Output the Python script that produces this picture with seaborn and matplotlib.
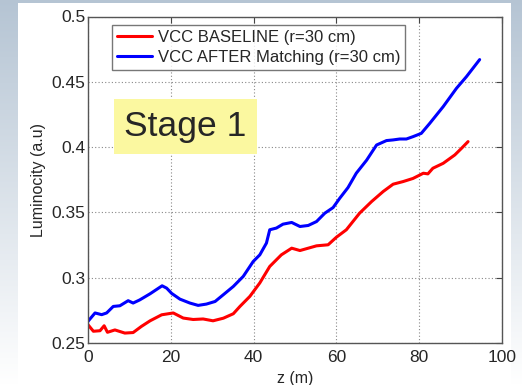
import numpy as np
import pandas as pd
import matplotlib
matplotlib.use("Agg")
import matplotlib.pyplot as plt
import seaborn as sns
from matplotlib.patches import Rectangle

# ---- data ----
z_after = [0, 1.7, 3.3, 4.5, 6.1, 7.7, 9.7, 10.9, 12.5, 15, 17.9, 19, 20.2, 22.2, 24.6, 26.6,
           28.6, 30.7, 32.7, 35.1, 37.5, 39.9, 41.5, 43.1, 43.9, 45.5, 47.1, 49.2, 51.2, 53.2,
           55.2, 57.2, 59.2, 60.8, 62.8, 64.8, 67.3, 69.7, 72.1, 73.7, 75.3, 76.9, 78.5, 80.5,
           82.5, 85.8, 89, 91.4, 94.6]
lum_after = [0.2666, 0.273, 0.2717, 0.273, 0.278, 0.2785, 0.2824, 0.2806, 0.283, 0.2877, 0.2938,
             0.292, 0.288, 0.2836, 0.2806, 0.2788, 0.2798, 0.2818, 0.287, 0.2933, 0.301, 0.3124,
             0.3175, 0.3265, 0.3367, 0.338, 0.341, 0.3423, 0.3392, 0.340, 0.343, 0.3494, 0.3537,
             0.3608, 0.369, 0.380, 0.390, 0.4016, 0.405, 0.4055, 0.4062, 0.4062, 0.408, 0.4105,
             0.418, 0.431, 0.445, 0.4539, 0.467]
z_base = [0, 1.3, 2.9, 3.9, 4.7, 6.5, 8.9, 10.9, 12.9, 15, 17.8, 20.6, 23, 25.4, 27.8, 30.2,
          32.7, 35.1, 36.7, 39.1, 41.5, 43.9, 46.7, 49.2, 51.2, 53.2, 55.2, 58, 60, 62.4, 65.6,
          68.5, 71.3, 73.7, 76.1, 78.5, 81, 82.1, 83.3, 85.8, 88.6, 90.2, 91.8]
lum_base = [0.264, 0.259, 0.2594, 0.2632, 0.2582, 0.260, 0.2576, 0.258, 0.2627, 0.267, 0.2716,
            0.273, 0.2691, 0.268, 0.2684, 0.267, 0.269, 0.2724, 0.278, 0.2857, 0.296, 0.3086,
            0.3175, 0.3226, 0.3208, 0.3226, 0.3244, 0.3252, 0.331, 0.3367, 0.3494, 0.3583,
            0.366, 0.3716, 0.3736, 0.376, 0.380, 0.3795, 0.3838, 0.3876, 0.394, 0.399, 0.4042]
series_names = ["VCC BASELINE (r=30 cm)", "VCC AFTER Matching (r=30 cm)"]
x_ticks = [0, 20, 40, 60, 80, 100]
y_ticks = [0.25, 0.3, 0.35, 0.4, 0.45, 0.5]
y_tick_labels = ["0.25", "0.3", "0.35", "0.4", "0.45", "0.5"]

df = pd.concat([
    pd.DataFrame({"z": z_base, "lum": lum_base, "series": series_names[0]}),
    pd.DataFrame({"z": z_after, "lum": lum_after, "series": series_names[1]}),
], ignore_index=True)

sns.set_style("white")
plt.rcParams["font.family"] = ["Liberation Sans", "DejaVu Sans"]

fig = plt.figure(figsize=(5.22, 3.85), dpi=100)

# background gradient + white panel
bg = fig.add_axes([0, 0, 1, 1], zorder=-10)
grad = np.linspace(0, 1, 256).reshape(-1, 1)
top = np.array([0.71, 0.77, 0.83])
bot = np.array([1.0, 1.0, 1.0])
img = top[None, None, :] * (1 - grad[:, :, None]) + bot[None, None, :] * grad[:, :, None]
bg.imshow(img, aspect="auto", extent=[0, 1, 0, 1], origin="upper")
bg.add_patch(Rectangle((18 / 522, 0), (511 - 18) / 522, 1 - 3 / 385, color="white", lw=0))
bg.set_xlim(0, 1); bg.set_ylim(0, 1)
bg.axis("off")

ax = fig.add_axes([88 / 522, 1 - 343 / 385, (502 - 88) / 522, (343 - 16.5) / 385])
sns.lineplot(data=df, x="z", y="lum", hue="series", palette=["#ff0000", "#0000ff"],
             linewidth=2.2, ax=ax, sort=False)
ax.set_xlim(0, 100)
ax.set_ylim(0.25, 0.5)
ax.set_xticks(x_ticks)
ax.set_xticklabels([str(t) for t in x_ticks])
ax.set_yticks(y_ticks)
ax.set_yticklabels(y_tick_labels)
ax.tick_params(direction="in", length=4, top=True, right=True, labelsize=12.5, pad=2,
               color="#444444")
ax.tick_params(axis="x", pad=5)
ax.grid(True, linestyle=(0, (1, 2)), color="#888888", linewidth=0.8)
for s in ax.spines.values():
    s.set_color("#555555")
    s.set_linewidth(1.0)
ax.set_xlabel("z (m)", fontsize=11.5, labelpad=4)
ax.set_ylabel("Luminocity (a.u)", fontsize=11.5, labelpad=4)

leg = ax.legend(loc="upper left", bbox_to_anchor=(0.058, 0.975), fontsize=12, frameon=True,
                fancybox=False, borderpad=0.3, handlelength=2.1, handletextpad=0.35,
                labelspacing=0.3, borderaxespad=0)
leg.get_frame().set_edgecolor("#555555")
leg.get_frame().set_linewidth(1.0)

ax.text(0.088, 0.663, "Stage 1", transform=ax.transAxes, fontsize=25.5, va="center", ha="left",
        bbox=dict(boxstyle="square,pad=0.3", facecolor="#fbf8a0", edgecolor="none"))

fig.savefig("out.png", dpi=100)
